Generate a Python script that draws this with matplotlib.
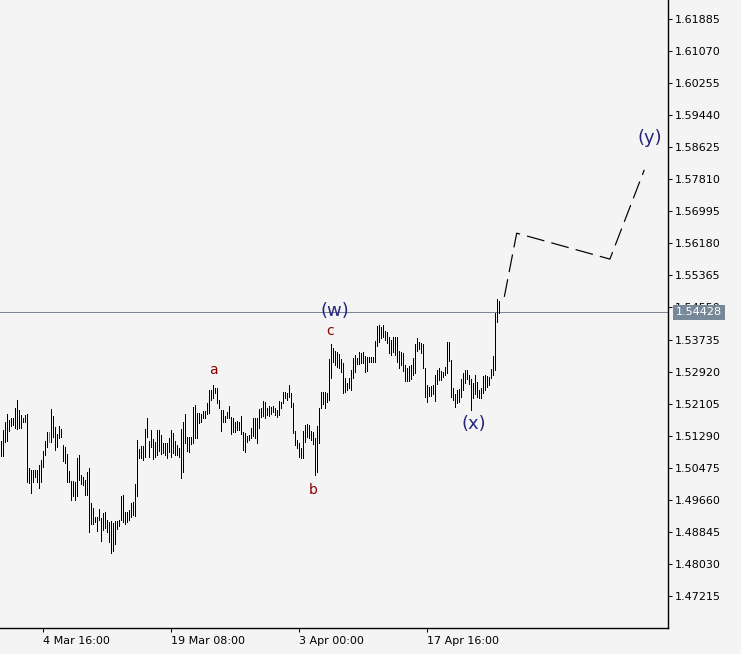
import matplotlib
matplotlib.use('Agg')
import matplotlib.pyplot as plt
import matplotlib.transforms as mtransforms

# ---- data (4H bars, high / low) ----
highs = [
    1.5115, 1.5144, 1.5164, 1.5184, 1.5169, 1.5174, 1.5174, 1.5200, 1.5220, 1.5194,
    1.5181, 1.5174, 1.5181, 1.5184, 1.5047, 1.5042, 1.5042, 1.5042, 1.5042, 1.5054,
    1.5067, 1.5090, 1.5115, 1.5139, 1.5139, 1.5197, 1.5179, 1.5151, 1.5134, 1.5154,
    1.5146, 1.5105, 1.5100, 1.5083, 1.5039, 1.5013, 1.5013, 1.5011, 1.5073, 1.5080,
    1.5029, 1.5024, 1.5016, 1.5037, 1.5047, 1.4958, 1.4946, 1.4922, 1.4922, 1.4943,
    1.4920, 1.4932, 1.4935, 1.4915, 1.4910, 1.4912, 1.4907, 1.4912, 1.4912, 1.4915,
    1.4976, 1.4978, 1.4935, 1.4935, 1.4940, 1.4958, 1.4961, 1.5006, 1.5118, 1.5095,
    1.5103, 1.5103, 1.5146, 1.5174, 1.5115, 1.5144, 1.5121, 1.5113, 1.5144, 1.5144,
    1.5131, 1.5110, 1.5110, 1.5110, 1.5124, 1.5144, 1.5136, 1.5115, 1.5105, 1.5098,
    1.5146, 1.5164, 1.5184, 1.5126, 1.5126, 1.5126, 1.5202, 1.5207, 1.5186, 1.5186,
    1.5184, 1.5191, 1.5191, 1.5212, 1.5245, 1.5245, 1.5258, 1.5250, 1.5250, 1.5220,
    1.5194, 1.5194, 1.5179, 1.5189, 1.5205, 1.5176, 1.5174, 1.5164, 1.5166, 1.5164,
    1.5179, 1.5139, 1.5136, 1.5129, 1.5131, 1.5149, 1.5174, 1.5174, 1.5174, 1.5197,
    1.5200, 1.5217, 1.5215, 1.5200, 1.5205, 1.5202, 1.5205, 1.5200, 1.5194, 1.5217,
    1.5215, 1.5240, 1.5240, 1.5237, 1.5258, 1.5237, 1.5212, 1.5141, 1.5118, 1.5110,
    1.5098, 1.5141, 1.5156, 1.5159, 1.5156, 1.5141, 1.5139, 1.5124, 1.5154, 1.5200,
    1.5240, 1.5240, 1.5240, 1.5237, 1.5325, 1.5362, 1.5352, 1.5344, 1.5342, 1.5337,
    1.5325, 1.5314, 1.5276, 1.5263, 1.5276, 1.5296, 1.5327, 1.5334, 1.5327, 1.5342,
    1.5339, 1.5342, 1.5332, 1.5329, 1.5329, 1.5329, 1.5329, 1.5370, 1.5408, 1.5411,
    1.5406, 1.5411, 1.5395, 1.5393, 1.5380, 1.5372, 1.5380, 1.5380, 1.5380, 1.5344,
    1.5342, 1.5339, 1.5309, 1.5301, 1.5306, 1.5309, 1.5327, 1.5362, 1.5377, 1.5367,
    1.5365, 1.5362, 1.5301, 1.5258, 1.5253, 1.5255, 1.5258, 1.5283, 1.5296, 1.5301,
    1.5294, 1.5291, 1.5304, 1.5367, 1.5367, 1.5322, 1.5250, 1.5235, 1.5245, 1.5248,
    1.5273, 1.5288, 1.5296, 1.5296, 1.5283, 1.5273, 1.5263, 1.5283, 1.5266, 1.5245,
    1.5250, 1.5281, 1.5283, 1.5281, 1.5278, 1.5299, 1.5332, 1.5441, 1.5477, 1.5471,
]
lows = [
    1.5078, 1.5078, 1.5113, 1.5115, 1.5141, 1.5154, 1.5156, 1.5149, 1.5146, 1.5149,
    1.5149, 1.5164, 1.5164, 1.5011, 1.5008, 1.4983, 1.5011, 1.5024, 1.5011, 1.4996,
    1.5011, 1.5049, 1.5080, 1.5100, 1.5113, 1.5113, 1.5126, 1.5093, 1.5100, 1.5124,
    1.5126, 1.5064, 1.5059, 1.5011, 1.5011, 1.4966, 1.4976, 1.4966, 1.4976, 1.5016,
    1.5006, 1.5003, 1.4978, 1.4978, 1.4884, 1.4905, 1.4905, 1.4910, 1.4887, 1.4915,
    1.4861, 1.4889, 1.4895, 1.4884, 1.4859, 1.4830, 1.4835, 1.4854, 1.4892, 1.4900,
    1.4915, 1.4910, 1.4905, 1.4910, 1.4915, 1.4922, 1.4927, 1.4925, 1.4976, 1.5073,
    1.5073, 1.5067, 1.5075, 1.5126, 1.5075, 1.5100, 1.5070, 1.5075, 1.5080, 1.5090,
    1.5083, 1.5085, 1.5080, 1.5073, 1.5088, 1.5075, 1.5085, 1.5080, 1.5080, 1.5075,
    1.5022, 1.5037, 1.5110, 1.5090, 1.5088, 1.5108, 1.5110, 1.5124, 1.5124, 1.5161,
    1.5164, 1.5174, 1.5174, 1.5184, 1.5186, 1.5220, 1.5225, 1.5237, 1.5212, 1.5200,
    1.5141, 1.5164, 1.5164, 1.5174, 1.5174, 1.5134, 1.5139, 1.5139, 1.5144, 1.5144,
    1.5134, 1.5093, 1.5088, 1.5113, 1.5118, 1.5124, 1.5129, 1.5124, 1.5110, 1.5149,
    1.5176, 1.5179, 1.5174, 1.5181, 1.5179, 1.5184, 1.5189, 1.5181, 1.5176, 1.5181,
    1.5200, 1.5212, 1.5225, 1.5220, 1.5227, 1.5202, 1.5136, 1.5105, 1.5098, 1.5075,
    1.5073, 1.5073, 1.5113, 1.5126, 1.5124, 1.5118, 1.5108, 1.5029, 1.5037, 1.5110,
    1.5200, 1.5210, 1.5200, 1.5215, 1.5220, 1.5276, 1.5317, 1.5309, 1.5304, 1.5301,
    1.5291, 1.5237, 1.5240, 1.5245, 1.5250, 1.5245, 1.5276, 1.5291, 1.5312, 1.5312,
    1.5314, 1.5314, 1.5291, 1.5294, 1.5317, 1.5317, 1.5317, 1.5317, 1.5357, 1.5367,
    1.5378, 1.5380, 1.5372, 1.5365, 1.5339, 1.5334, 1.5342, 1.5334, 1.5317, 1.5301,
    1.5309, 1.5294, 1.5268, 1.5268, 1.5268, 1.5273, 1.5283, 1.5288, 1.5344, 1.5349,
    1.5339, 1.5301, 1.5227, 1.5215, 1.5230, 1.5230, 1.5235, 1.5217, 1.5261, 1.5271,
    1.5271, 1.5278, 1.5283, 1.5288, 1.5319, 1.5227, 1.5220, 1.5202, 1.5212, 1.5215,
    1.5227, 1.5245, 1.5263, 1.5273, 1.5261, 1.5194, 1.5225, 1.5235, 1.5227, 1.5225,
    1.5225, 1.5237, 1.5245, 1.5253, 1.5258, 1.5276, 1.5283, 1.5296, 1.5418, 1.5441,
]
green_bars = [24]
current_price = 1.54428

price_ticks = [1.47215, 1.48030, 1.48845, 1.49660, 1.50475, 1.51290, 1.52105,
               1.52920, 1.53735, 1.54550, 1.55365, 1.56180, 1.56995, 1.57810,
               1.58625, 1.59440, 1.60255, 1.61070, 1.61885]
date_tick_bars = [21, 85, 149, 213]
date_tick_labels = ['4 Mar 16:00', '19 Mar 08:00', '3 Apr 00:00', '17 Apr 16:00']

# projected path (dashed)
proj_bars = [251.8, 258.0, 304.6, 321.8]
proj_prices = [1.5482, 1.5644, 1.5578, 1.5805]

# wave labels: text, bar position, price, colour, size
wave_text = ['(w)', 'c', 'a', 'b', '(x)', '(y)']
wave_bar = [167.2, 164.6, 106.4, 156.2, 236.7, 324.7]
wave_price = [1.5446, 1.5395, 1.5296, 1.4991, 1.5159, 1.5886]
wave_color = ['#25257d', '#8b0000', '#8b0000', '#8b0000', '#25257d', '#25257d']
wave_size = [13, 10, 10, 10, 13, 13]

# ---- figure ----
BG = '#f4f4f4'
PX = 0.72  # one pixel in points at 100 dpi
W, H = 741, 654
fig = plt.figure(figsize=(W / 100, H / 100), dpi=100)
fig.patch.set_facecolor(BG)
ax = fig.add_axes([0, 26 / H, 668 / W, 628 / H])
ax.set_facecolor(BG)

idx = list(range(len(highs)))
ax.vlines(idx, lows, highs, colors='black', linewidth=PX, antialiased=False,
          snap=True, zorder=3)
ax.vlines([idx[g] for g in green_bars], [lows[g] for g in green_bars],
          [highs[g] for g in green_bars], colors='#00e000', linewidth=PX,
          antialiased=False, snap=True, zorder=4)

ax.axhline(current_price, color='#7d8894', linewidth=PX, antialiased=False, zorder=2)

ax.plot(proj_bars, proj_prices, color='black', linewidth=PX * 1.2,
        linestyle=(0, (15, 6)), zorder=3)

for t, xb, yp, c, s in zip(wave_text, wave_bar, wave_price, wave_color, wave_size):
    ax.text(xb, yp, t, color=c, fontsize=s, ha='center', va='center', zorder=5)

ax.set_xlim(-0.35, 333.65)
ax.set_ylim(1.46401, 1.62368)

ax.yaxis.tick_right()
ax.set_yticks(price_ticks)
ax.set_yticklabels([f'{v:.5f}' for v in price_ticks])
ax.set_xticks(date_tick_bars)
ax.set_xticklabels(date_tick_labels)
for lab in ax.get_xticklabels():
    lab.set_horizontalalignment('left')
ax.tick_params(axis='y', direction='out', length=3, width=PX, pad=2,
               labelsize=8, colors='black')
ax.tick_params(axis='x', direction='out', length=3, width=PX, pad=3,
               labelsize=8, colors='black')

for s in ['left', 'top']:
    ax.spines[s].set_visible(False)
for s in ['right', 'bottom']:
    ax.spines[s].set_color('black')
    ax.spines[s].set_linewidth(1.0)

# current price label (covers the 1.54550 tick label, as in the terminal)
trans = mtransforms.offset_copy(ax.get_yaxis_transform(), fig=fig, x=8, y=0, units='dots')
ax.text(1.0, current_price, f'{current_price:.5f}', transform=trans, color='white',
        fontsize=8, ha='left', va='center', zorder=10, clip_on=False,
        bbox=dict(boxstyle='square,pad=0.25', fc='#778899', ec='none'))

fig.savefig('out.png', dpi=100, facecolor=BG)
